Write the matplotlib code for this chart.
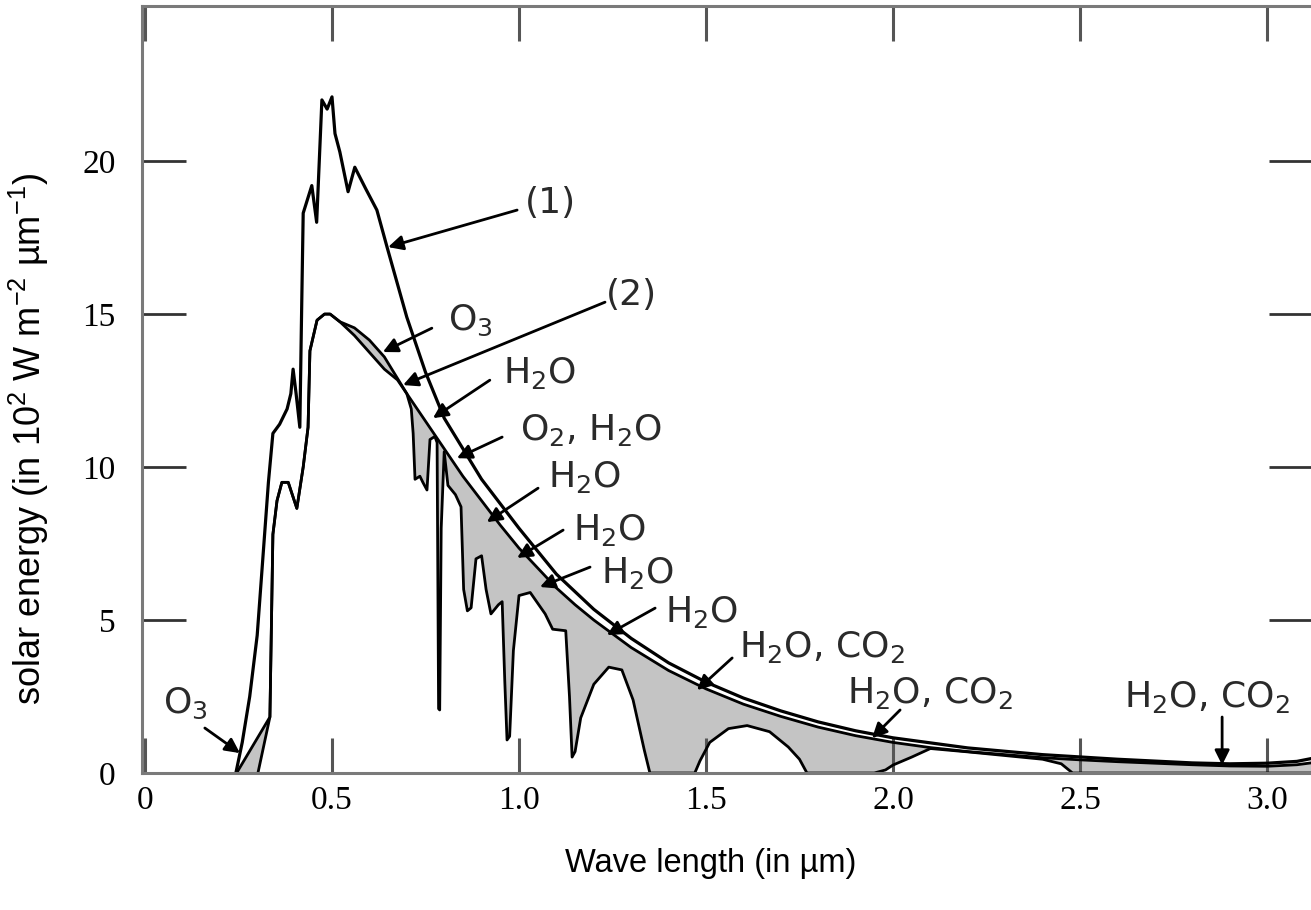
import numpy as np
import matplotlib
matplotlib.use('Agg')
import matplotlib.pyplot as plt

# (1) solar spectrum outside the atmosphere
wl_top = [0.243, 0.26, 0.28, 0.30, 0.315, 0.33, 0.342, 0.36, 0.38, 0.39, 0.396,
          0.404, 0.414, 0.418, 0.423, 0.446, 0.459, 0.473, 0.487, 0.50, 0.508,
          0.521, 0.543, 0.561, 0.59, 0.62, 0.647, 0.70, 0.75, 0.80, 0.85, 0.90,
          0.95, 1.00, 1.10, 1.20, 1.30, 1.40, 1.50, 1.60, 1.70, 1.80, 1.90,
          2.00, 2.20, 2.40, 2.60, 2.80, 2.90, 3.00, 3.08, 3.13]
e_top = [0.0, 1.0, 2.5, 4.5, 7.0, 9.5, 11.1, 11.4, 11.9, 12.4, 13.2,
         12.4, 11.3, 14.5, 18.3, 19.2, 18.0, 22.0, 21.7, 22.1, 20.9,
         20.3, 19.0, 19.8, 19.1, 18.4, 17.2, 14.9, 13.1, 11.6, 10.6, 9.6,
         8.8, 8.0, 6.5, 5.35, 4.4, 3.6, 2.97, 2.45, 2.03, 1.67, 1.38,
         1.15, 0.82, 0.6, 0.45, 0.33, 0.3, 0.32, 0.38, 0.5]

# (2) sea level, without the gas absorption bands
wl_sea = [0.245, 0.334, 0.342, 0.353, 0.366, 0.383, 0.406, 0.423, 0.436, 0.441,
          0.46, 0.48, 0.495, 0.521, 0.56, 0.60, 0.64, 0.675, 0.70, 0.75, 0.80,
          0.85, 0.90, 0.95, 1.00, 1.05, 1.10, 1.15, 1.20, 1.30, 1.40, 1.50,
          1.60, 1.70, 1.80, 1.90, 2.00, 2.10, 2.20, 2.30, 2.40, 2.50, 2.60,
          2.70, 2.80, 2.90, 3.00, 3.08, 3.13]
e_sea = [0.0, 1.83, 7.8, 8.9, 9.5, 9.5, 8.65, 10.0, 11.3, 13.8,
         14.8, 15.0, 15.0, 14.75, 14.55, 14.15, 13.6, 12.9, 12.4, 11.5, 10.6,
         9.7, 8.9, 8.1, 7.35, 6.7, 6.05, 5.5, 5.0, 4.1, 3.35, 2.75,
         2.25, 1.85, 1.5, 1.22, 1.0, 0.83, 0.7, 0.6, 0.5, 0.43, 0.37,
         0.32, 0.27, 0.23, 0.22, 0.27, 0.35]

# sea level with absorption
wl_abs = [0.302, 0.334, 0.342, 0.353, 0.366, 0.383, 0.406, 0.423, 0.436, 0.441,
          0.46, 0.48, 0.495, 0.521, 0.56, 0.60, 0.64, 0.675, 0.70, 0.712,
          0.717, 0.722, 0.735, 0.743, 0.754, 0.762, 0.775, 0.781, 0.785, 0.788,
          0.792, 0.80, 0.81, 0.83, 0.845, 0.852, 0.862, 0.872, 0.885, 0.90,
          0.912, 0.925, 0.945, 0.955, 0.962, 0.968, 0.975, 0.985, 1.00, 1.03,
          1.07, 1.09, 1.125, 1.135, 1.142, 1.15, 1.165, 1.20, 1.24, 1.275,
          1.305, 1.335, 1.35, 1.47, 1.484, 1.51, 1.56, 1.61, 1.67, 1.72, 1.75,
          1.77, 1.95, 1.98, 2.00, 2.05, 2.10, 2.20, 2.30, 2.40, 2.45, 2.48, 3.13]
e_abs = [0.0, 1.83, 7.8, 8.9, 9.5, 9.5, 8.65, 10.0, 11.3, 13.8,
         14.8, 15.0, 15.0, 14.75, 14.3, 13.75, 13.2, 12.85, 12.4, 11.9,
         11.1, 9.6, 9.7, 9.5, 9.25, 10.9, 11.0, 10.8, 2.1, 2.06,
         8.0, 10.5, 9.4, 9.1, 8.7, 6.0, 5.3, 5.4, 7.0, 7.1,
         6.0, 5.2, 5.5, 5.6, 3.0, 1.08, 1.2, 4.0, 5.8, 5.9,
         5.2, 4.7, 4.65, 2.5, 0.52, 0.7, 1.8, 2.9, 3.46, 3.37,
         2.39, 0.75, 0.0, 0.0, 0.4, 1.0, 1.45, 1.55, 1.35, 0.85, 0.45,
         0.0, 0.0, 0.1, 0.26, 0.52, 0.8, 0.69, 0.57, 0.45, 0.3, 0.0, 0.0]

# labels: (text, text pos, arrow start, arrow tip)
notes = [
    ('(1)', (1.083, 18.63), (0.995, 18.4), (0.65, 17.19)),
    ('(2)', (1.30, 15.62), (1.23, 15.39), (0.69, 12.68)),
    ('O$_3$', (0.869, 14.8), (0.767, 14.54), (0.636, 13.76)),
    ('H$_2$O', (1.056, 13.07), (0.922, 12.84), (0.77, 11.6)),
    ('O$_2$, H$_2$O', (1.193, 11.2), (0.955, 10.98), (0.834, 10.29)),
    ('H$_2$O', (1.176, 9.67), (1.051, 9.31), (0.914, 8.2)),
    ('H$_2$O', (1.243, 7.94), (1.118, 7.94), (0.995, 7.03)),
    ('H$_2$O', (1.316, 6.54), (1.19, 6.73), (1.056, 6.08)),
    ('H$_2$O', (1.487, 5.26), (1.364, 5.39), (1.235, 4.51)),
    ('H$_2$O, CO$_2$', (1.81, 4.12), (1.57, 3.76), (1.476, 2.71)),
    ('H$_2$O, CO$_2$', (2.099, 2.61), (2.019, 2.06), (1.944, 1.14)),
    ('H$_2$O, CO$_2$', (2.84, 2.48), (2.88, 1.83), (2.88, 0.26)),
    ('O$_3$', (0.107, 2.29), (0.16, 1.47), (0.254, 0.65)),
]

plt.rcParams['mathtext.fontset'] = 'custom'
plt.rcParams['mathtext.rm'] = 'Liberation Sans'
plt.rcParams['mathtext.it'] = 'Liberation Sans'
plt.rcParams['font.family'] = ['Liberation Sans', 'DejaVu Sans']

fig = plt.figure(figsize=(13.11, 9.10), dpi=100)
ax = fig.add_axes([142 / 1311, 137 / 910, 1171 / 1311, 767 / 910])

# absorbed part, between the two sea level curves
ax.fill(np.concatenate([wl_sea, wl_abs[::-1]]),
        np.concatenate([e_sea, e_abs[::-1]]),
        color='#c4c4c4', lw=0)
ax.plot(wl_top, e_top, color='black', lw=2.3, solid_joinstyle='round')
ax.plot(wl_sea, e_sea, color='black', lw=2.0, solid_joinstyle='round')
ax.plot(wl_abs, e_abs, color='black', lw=2.0, solid_joinstyle='round')

for txt, tpos, start, tip in notes:
    ax.annotate('', xy=tip, xytext=start,
                arrowprops=dict(arrowstyle='-|>', color='black', lw=2.0,
                                mutation_scale=22, shrinkA=0, shrinkB=0))
    ax.text(tpos[0], tpos[1], txt, fontsize=26, color='#2a2a2a',
            family='DejaVu Sans', math_fontfamily='dejavusans',
            ha='center', va='center')

ax.set_xlim(-0.008, 3.123)
ax.set_ylim(0, 25.07)
ax.set_xticks([0, 0.5, 1.0, 1.5, 2.0, 2.5, 3.0])
ax.set_xticklabels(['0', '0.5', '1.0', '1.5', '2.0', '2.5', '3.0'])
ax.set_yticks([0, 5, 10, 15, 20])
for lab in ax.get_xticklabels() + ax.get_yticklabels():
    lab.set_fontfamily('Liberation Serif')
    lab.set_fontsize(24)
ax.tick_params(axis='x', direction='in', length=25, width=2.2, color='#555555',
               top=True, pad=9)
ax.tick_params(axis='y', direction='in', length=32, width=2.0, color='#333333',
               right=True, pad=19)
for sp in ax.spines.values():
    sp.set_color('#7a7a7a')
    sp.set_linewidth(2.2)

ax.set_xlabel('Wave length (in µm)', fontsize=23.5)
ax.xaxis.set_label_coords(0.486, -0.098)
ax.set_ylabel('solar energy (in 10$^2$ W m$^{-2}$ µm$^{-1}$)', fontsize=26)
ax.yaxis.set_label_coords(-0.078, 0.435)

fig.savefig('out.png', dpi=100)
